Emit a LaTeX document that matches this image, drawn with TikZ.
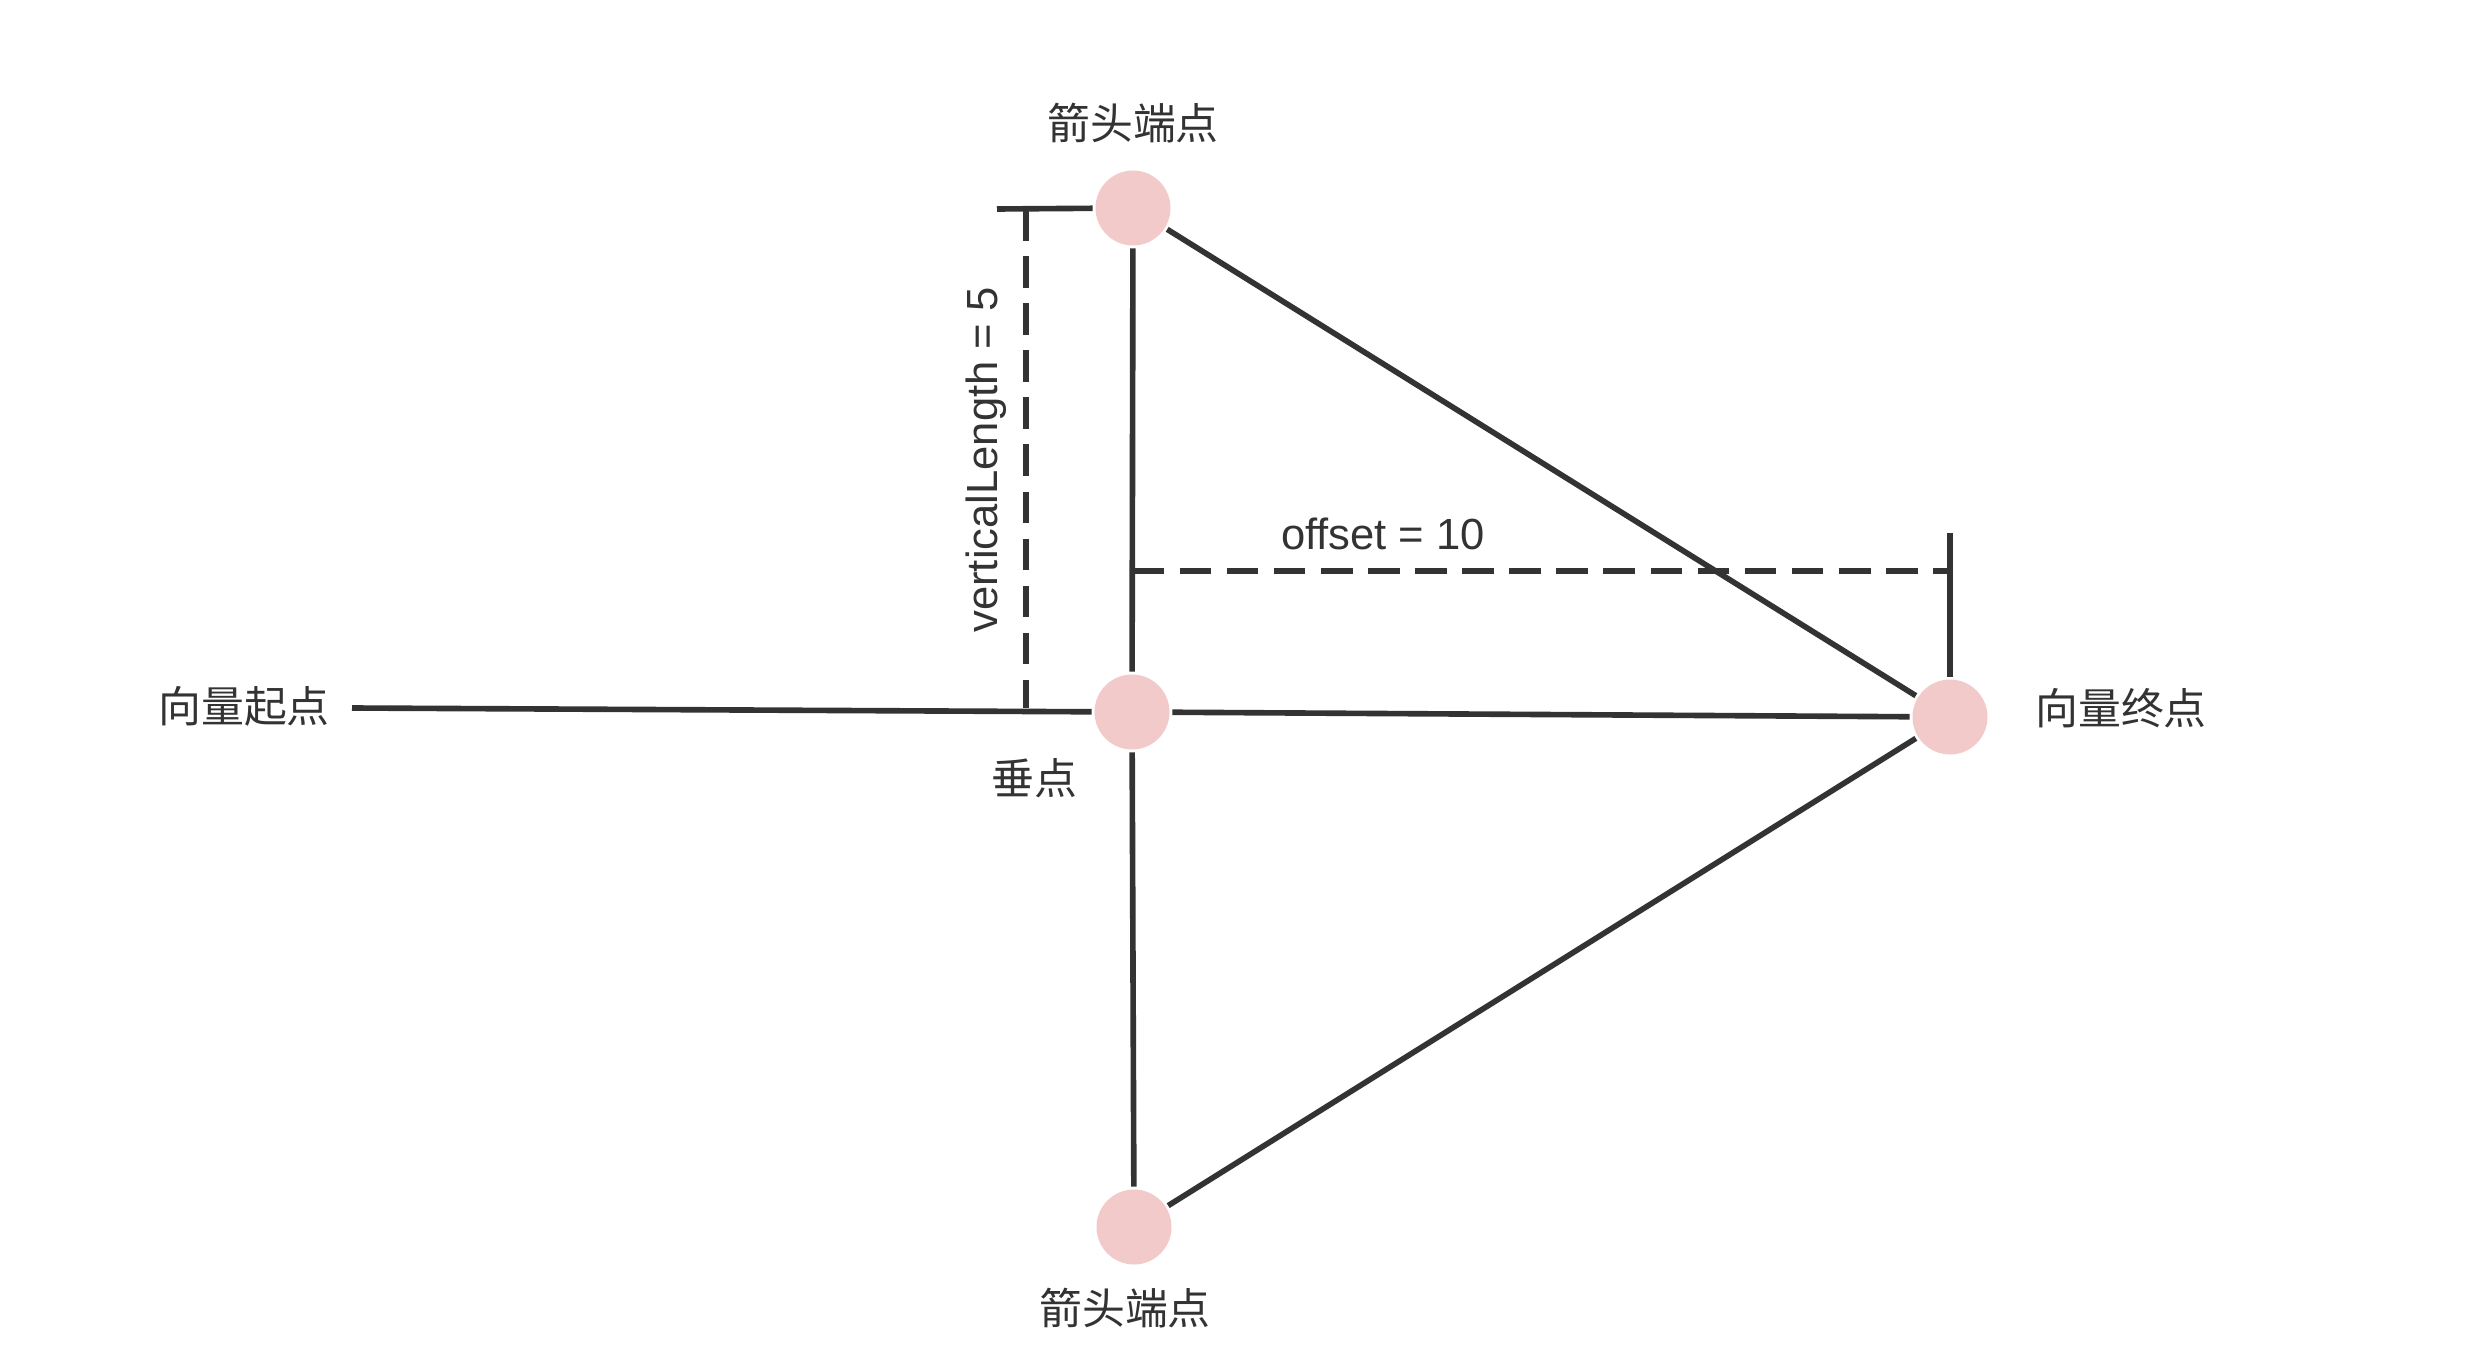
\documentclass[tikz,border=0pt]{standalone}
\usepackage{fontspec}
\setsansfont{Liberation Sans}
\newfontfamily\cjk{Noto Sans CJK SC}
\definecolor{linegray}{HTML}{333333}
\definecolor{dotpink}{HTML}{F2CACA}

\begin{document}
\begin{tikzpicture}[x=1cm, y=-1cm, line width=1.6pt, color=linegray,
    point node/.style={circle, fill=dotpink, minimum size=0.75cm, inner sep=0pt},
    cn label/.style={font=\cjk\fontsize{12.2}{14}\selectfont, inner sep=0pt},
    en label/.style={font=\sffamily\fontsize{12.4}{14}\selectfont, inner sep=0pt},
    dim line/.style={dash pattern=on 9pt off 4.4pt, line width=1.8pt}]

    \useasboundingbox (0,0) rectangle (24.7,13.54);

    % points
    \node[point node] (top)    at (11.33, 2.08)  {};
    \node[point node] (foot)   at (11.32, 7.12)  {};
    \node[point node] (end)    at (19.50, 7.17)  {};
    \node[point node] (bottom) at (11.34, 12.27) {};
    \coordinate (start) at (3.52, 7.08);

    % labels
    \node[cn label] (start label)  at (2.44, 7.06)   {向量起点};
    \node[cn label] (end label)    at (21.21, 7.08)  {向量终点};
    \node[cn label] (top label)    at (11.33, 1.23)  {箭头端点};
    \node[cn label] (bottom label) at (11.25, 13.08) {箭头端点};
    \node[cn label] (foot label)   at (10.34, 7.78)  {垂点};

    % vector and arrow head
    \draw (start) -- (foot) -- (end);
    \draw (top) -- (foot) -- (bottom);
    \draw (top) -- (end);
    \draw (bottom) -- (end);

    % verticalLength
    \coordinate (vl top) at (9.97, 2.09);
    \coordinate (vl dash top) at (10.26, 2.09);
    \coordinate (vl dash bottom) at (10.26, 7.08);
    \draw (vl top) -- (top);
    \draw[dim line] (vl dash top) -- (vl dash bottom);
    \node[en label, rotate=90] (vl label) at (9.86, 4.60) {verticalLength = 5};

    % offset
    \coordinate (off tick) at (19.50, 5.33);
    \coordinate (off left) at (11.325, 5.71);
    \coordinate (off right) at (19.50, 5.71);
    \draw (off tick) -- (end);
    \draw[dim line] (off left) -- (off right);
    \node[en label] (off label) at (13.83, 5.34) {offset = 10};

\end{tikzpicture}
\end{document}
